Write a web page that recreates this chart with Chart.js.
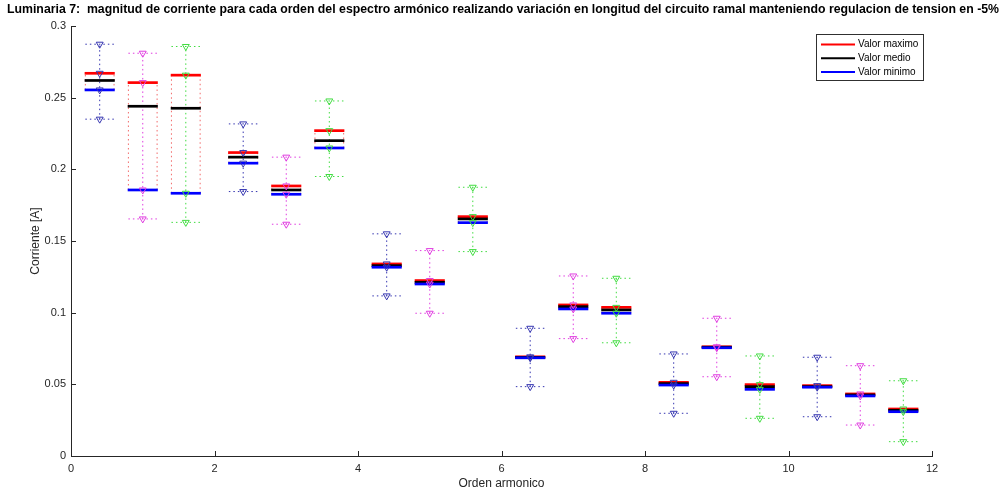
<!DOCTYPE html>
<html>
<head>
<meta charset="utf-8">
<script src="https://cdn.jsdelivr.net/npm/chart.js@4.4.1/dist/chart.umd.min.js"></script>
<style>
  html, body { margin: 0; padding: 0; background: #ffffff; }
  #wrap { width: 1003px; height: 498px; position: relative; }
</style>
</head>
<body>
<div id="wrap"><canvas id="c" width="1003" height="498"></canvas></div>
<script>
// ---- data ----
const chartTitle = 'Luminaria 7:  magnitud de corriente para cada orden del espectro armónico realizando variación en longitud del circuito ramal manteniendo regulacion de tension en -5%';
const xAxisTitle = 'Orden armonico';
const yAxisTitle = 'Corriente [A]';
const legendLabels = ['Valor maximo', 'Valor medio', 'Valor minimo'];

const positions = [0.4, 1.0, 1.6, 2.4, 3.0, 3.6, 4.4, 5.0, 5.6, 6.4, 7.0, 7.6, 8.4, 9.0, 9.6, 10.4, 11.0, 11.6];
const maxValues  = [0.2670, 0.2605, 0.2657, 0.2117, 0.1884, 0.2270, 0.1340, 0.1224, 0.1670, 0.0692, 0.1054, 0.1037, 0.0514, 0.0762, 0.0498, 0.0491, 0.0433, 0.0328];
const meanValues = [0.2620, 0.2440, 0.2426, 0.2085, 0.1856, 0.2200, 0.1328, 0.1212, 0.1654, 0.0688, 0.1042, 0.1019, 0.0505, 0.0759, 0.0484, 0.0484, 0.0426, 0.0319];
const minValues  = [0.2554, 0.1856, 0.1833, 0.2043, 0.1826, 0.2149, 0.1317, 0.1200, 0.1628, 0.0685, 0.1026, 0.0996, 0.0495, 0.0755, 0.0465, 0.0480, 0.0419, 0.0309];
const upperWhisker = [0.2873, 0.2810, 0.2857, 0.2317, 0.2085, 0.2477, 0.1550, 0.1433, 0.1875, 0.0891, 0.1256, 0.1240, 0.0712, 0.0961, 0.0698, 0.0689, 0.0630, 0.0525];
const lowerWhisker = [0.2350, 0.1654, 0.1630, 0.1845, 0.1617, 0.1950, 0.1117, 0.0996, 0.1426, 0.0484, 0.0819, 0.0790, 0.0298, 0.0553, 0.0263, 0.0274, 0.0216, 0.0100];
const xTicks = [0, 2, 4, 6, 8, 10, 12];
const yTicks = [0, 0.05, 0.1, 0.15, 0.2, 0.25, 0.3];

// ---- styles ----
const groupColors = ['#3535b0', '#e03ce0', '#40dc40'];
const maxColor = '#ff0000', meanColor = '#000000', minColor = '#0000ff';
const boxEdgeColor = 'rgba(240,80,80,0.85)';
const HW = 0.2;      // half width of caps / box
const LHW = 0.21;    // half width of level lines
const FONT = "'Liberation Sans', Arial, Helvetica, sans-serif";

const datasets = [];
positions.forEach((p, i) => {
  const col = groupColors[i % 3];
  // dotted box edges
  datasets.push({
    type: 'line', order: 6, borderColor: boxEdgeColor, borderWidth: 1, borderDash: [1.5, 3],
    pointRadius: 0, spanGaps: false,
    data: [{x: p - HW, y: minValues[i]}, {x: p - HW, y: maxValues[i]}, {x: p, y: null},
           {x: p + HW, y: minValues[i]}, {x: p + HW, y: maxValues[i]}]
  });
  // whisker vertical + caps
  datasets.push({
    type: 'line', order: 5, borderColor: col, borderWidth: 1, borderDash: [1.5, 3],
    pointRadius: 0, spanGaps: false,
    data: [{x: p, y: lowerWhisker[i]}, {x: p, y: upperWhisker[i]}, {x: p, y: null},
           {x: p - HW, y: upperWhisker[i]}, {x: p + HW, y: upperWhisker[i]}, {x: p, y: null},
           {x: p - HW, y: lowerWhisker[i]}, {x: p + HW, y: lowerWhisker[i]}]
  });
  // level lines
  [[maxValues, maxColor, 3], [meanValues, meanColor, 2], [minValues, minColor, 1]].forEach(([arr, c, o]) => {
    datasets.push({
      type: 'line', order: o, borderColor: c, borderWidth: 2.7, pointRadius: 0,
      data: [{x: p - LHW, y: arr[i]}, {x: p + LHW, y: arr[i]}]
    });
  });
  // triangle markers
  datasets.push({
    type: 'line', order: 0, showLine: false, pointStyle: 'triangle', rotation: 180,
    pointRadius: 4, pointBorderWidth: 1, pointBorderColor: col, pointBackgroundColor: 'rgba(0,0,0,0)',
    data: [{x: p, y: upperWhisker[i]}, {x: p, y: maxValues[i]}, {x: p, y: minValues[i]}, {x: p, y: lowerWhisker[i]}]
  });
});

const decorPlugin = {
  id: 'decor',
  afterDraw(chart) {
    const ctx = chart.ctx;
    const xs = chart.scales.x, ys = chart.scales.y;
    ctx.save();
    // inward ticks
    ctx.strokeStyle = '#262626';
    ctx.lineWidth = 1;
    ctx.beginPath();
    yTicks.forEach(v => {
      const py = Math.round(ys.getPixelForValue(v)) + 0.5;
      ctx.moveTo(xs.left, py); ctx.lineTo(xs.left + 5, py);
    });
    xTicks.forEach(v => {
      const px = Math.round(xs.getPixelForValue(v)) + 0.5;
      ctx.moveTo(px, ys.bottom); ctx.lineTo(px, ys.bottom - 5);
    });
    ctx.stroke();
    // title
    ctx.fillStyle = '#000';
    ctx.font = "bold 12.5px 'Liberation Sans Narrow', 'Liberation Sans', Arial, sans-serif";
    ctx.textAlign = 'center';
    ctx.textBaseline = 'middle';
    ctx.fillText(chartTitle, 503, 9.5, 992);
    // legend
    const lx = 816, ly = 34, lw = 107, lh = 46;
    ctx.fillStyle = '#fff';
    ctx.fillRect(lx, ly, lw, lh);
    ctx.strokeStyle = '#303030';
    ctx.lineWidth = 1;
    ctx.strokeRect(lx + 0.5, ly + 0.5, lw, lh);
    const cols = [maxColor, meanColor, minColor];
    ctx.font = "10px " + FONT;
    ctx.textAlign = 'left';
    legendLabels.forEach((t, k) => {
      const yy = ly + 10.5 + k * 13.7;
      ctx.strokeStyle = cols[k];
      ctx.lineWidth = 2;
      ctx.beginPath(); ctx.moveTo(821, yy); ctx.lineTo(855, yy); ctx.stroke();
      ctx.fillStyle = '#000';
      ctx.fillText(t, 858, yy);
    });
    ctx.restore();
  }
};

new Chart(document.getElementById('c'), {
  type: 'line',
  data: { datasets },
  options: {
    responsive: false,
    animation: false,
    events: [],
    devicePixelRatio: 1,
    layout: { padding: { top: 26, right: 71, left: 0, bottom: 0 } },
    plugins: { legend: { display: false }, title: { display: false }, tooltip: { enabled: false } },
    scales: {
      x: {
        type: 'linear', min: 0, max: 12,
        afterFit(s) { s.height = 42; },
        afterBuildTicks(s) { s.ticks = xTicks.map(v => ({ value: v })); },
        grid: { display: false, drawTicks: false },
        border: { display: true, color: '#262626', width: 1 },
        ticks: { padding: 6, color: '#262626', font: { size: 11, family: FONT }, maxRotation: 0,
                 callback: v => String(v) },
        title: { display: true, text: xAxisTitle, color: '#262626', font: { size: 12, family: FONT },
                 padding: { top: 0, bottom: 7 } }
      },
      y: {
        type: 'linear', min: 0, max: 0.3,
        afterFit(s) { s.width = 71; },
        afterBuildTicks(s) { s.ticks = yTicks.map(v => ({ value: v })); },
        grid: { display: false, drawTicks: false },
        border: { display: true, color: '#262626', width: 1 },
        ticks: { padding: 5, color: '#262626', font: { size: 11, family: FONT },
                 callback: v => String(+v.toFixed(2)) },
        title: { display: true, text: yAxisTitle, color: '#262626', font: { size: 12, family: FONT },
                 padding: { top: 28, bottom: 0 } }
      }
    }
  },
  plugins: [decorPlugin]
});
</script>
</body>
</html>
